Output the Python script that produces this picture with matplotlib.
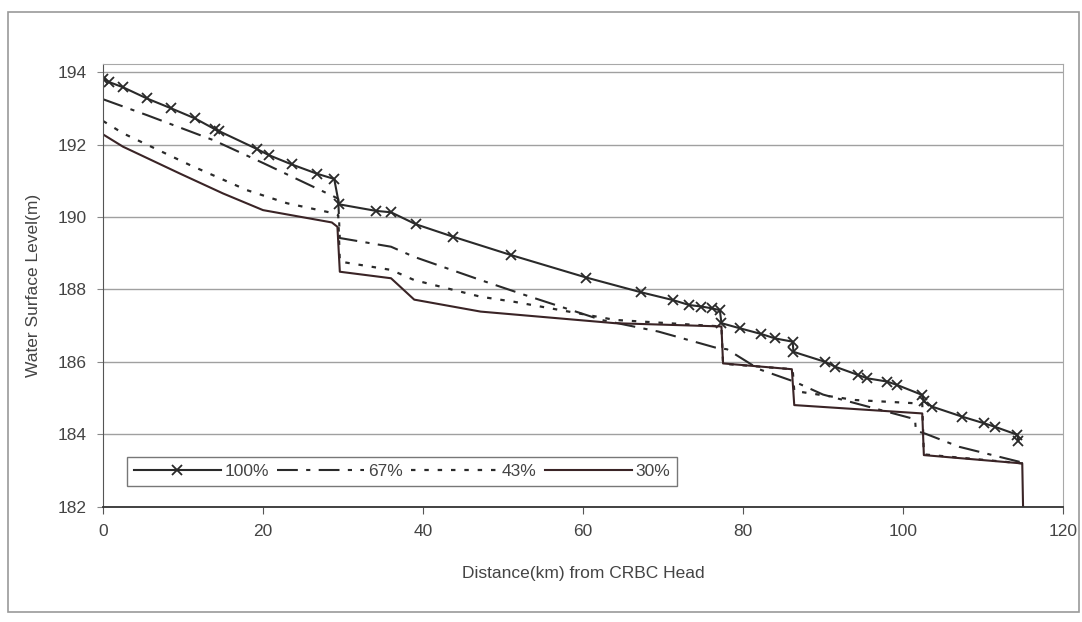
import matplotlib.pyplot as plt
from matplotlib.patches import Rectangle

plt.rcParams['font.family'] = ['Liberation Sans', 'DejaVu Sans']

# 100% discharge (with x markers)
x100 = [0, 0.8, 2.5, 5.5, 8.5, 11.5, 14.0, 14.5, 19.3, 20.7, 23.6, 26.8, 28.9,
        29.5, 34.1, 36.0, 39.1, 43.7, 51.0, 60.4, 67.3, 71.2, 73.3, 74.8, 76.1,
        77.1, 77.3, 79.6, 82.3, 84.0, 86.2, 86.3, 90.3, 91.5, 94.4, 95.5, 98.0,
        99.2, 102.4, 102.6, 103.6, 107.4, 110.1, 111.5, 114.3, 114.4]
y100 = [193.82, 193.72, 193.58, 193.27, 193.0, 192.72, 192.42, 192.37, 191.87,
        191.71, 191.45, 191.19, 191.05, 190.35, 190.17, 190.13, 189.8, 189.46,
        188.95, 188.33, 187.92, 187.71, 187.57, 187.53, 187.48, 187.43, 187.07,
        186.93, 186.77, 186.65, 186.56, 186.28, 186.0, 185.87, 185.64, 185.55,
        185.46, 185.37, 185.09, 184.91, 184.77, 184.49, 184.31, 184.21, 183.99,
        183.82]

# 67% discharge (dash-dot)
x67 = [0, 5.5, 13.8, 20.1, 28.9, 29.4, 29.6, 36.0, 38.9, 47.2, 52.7, 62.3,
       69.4, 76.5, 78.0, 82.0, 86.5, 90.0, 101.5, 101.6, 102.8, 107.0, 115.0]
y67 = [193.25, 192.81, 192.12, 191.48, 190.56, 190.5, 189.42, 189.18, 188.9,
       188.26, 187.85, 187.16, 186.84, 186.4, 186.35, 185.8, 185.45, 185.1,
       184.42, 184.1, 184.02, 183.66, 183.22]

# 43% discharge (dotted)
x43 = [0, 2.5, 10.9, 18.0, 23.0, 28.9, 29.4, 29.6, 36.0, 38.9, 47.2, 51.4,
       64.0, 77.3, 77.5, 86.2, 86.4, 94.0, 102.4, 102.6, 115.0]
y43 = [192.65, 192.31, 191.43, 190.74, 190.38, 190.1, 190.05, 188.77, 188.54,
       188.26, 187.8, 187.66, 187.16, 186.98, 185.95, 185.8, 185.2, 184.95,
       184.85, 183.45, 183.2]

# 30% discharge (solid)
x30 = [0, 2.5, 9.6, 15.0, 20.0, 28.6, 29.3, 29.6, 36.0, 38.9, 47.2, 64.0,
       77.3, 77.5, 86.1, 86.4, 102.4, 102.6, 114.9, 115.0]
y30 = [192.28, 191.94, 191.2, 190.65, 190.19, 189.85, 189.73, 188.49, 188.31,
       187.72, 187.39, 187.07, 186.98, 185.96, 185.8, 184.81, 184.58, 183.43,
       183.2, 182.0]

fig = plt.figure(figsize=(10.82, 6.22), dpi=100)
ax = fig.add_axes([0.0952, 0.185, 0.8873, 0.712])

# outer chart frame
fig.patches.append(Rectangle((0.007, 0.016), 0.99, 0.965, transform=fig.transFigure,
                             fill=False, edgecolor='#9a9a9a', linewidth=1.2))

line_col = '#2a2a2a'
ax.plot(x100, y100, color=line_col, linewidth=1.5, marker='x', markersize=7,
        markeredgewidth=1.3, label='100%')
ax.plot(x67, y67, color=line_col, linewidth=1.5, dashes=[10, 4, 2, 4], label='67%')
ax.plot(x43, y43, color=line_col, linewidth=1.6, dashes=[2, 4], label='43%')
ax.plot(x30, y30, color='#3a2426', linewidth=1.5, label='30%')

ax.set_xlim(0, 120)
ax.set_ylim(182, 194.22)
ax.set_xticks([0, 20, 40, 60, 80, 100, 120])
ax.set_yticks([182, 184, 186, 188, 190, 192, 194])
ax.yaxis.grid(True, color='#a0a0a0', linewidth=1.0)
ax.set_axisbelow(True)

for side in ['top', 'right']:
    ax.spines[side].set_color('#a8a8a8')
ax.spines['left'].set_color('#555555')
ax.spines['bottom'].set_color('#333333')
ax.spines['bottom'].set_linewidth(1.3)

ax.tick_params(axis='x', direction='out', length=5, colors='#555555',
               labelcolor='#444444', labelsize=12.5, pad=7)
ax.tick_params(axis='y', direction='out', length=4, colors='#888888',
               labelcolor='#444444', labelsize=12.5, pad=8)

ax.set_xlabel('Distance(km) from CRBC Head', fontsize=12.5, color='#444444', labelpad=20)
ax.set_ylabel('Water Surface Level(m)', fontsize=12.5, color='#444444', labelpad=12)

leg = ax.legend(loc='lower left', bbox_to_anchor=(0.016, 0.028), ncol=4,
                fontsize=12.5, frameon=True, fancybox=False, handlelength=5.0,
                handletextpad=0.2, columnspacing=0.5, borderpad=0.4)
leg.get_frame().set_edgecolor('#555555')
leg.get_frame().set_linewidth(1.0)
for t in leg.get_texts():
    t.set_color('#444444')

fig.savefig('out.png', dpi=100)
